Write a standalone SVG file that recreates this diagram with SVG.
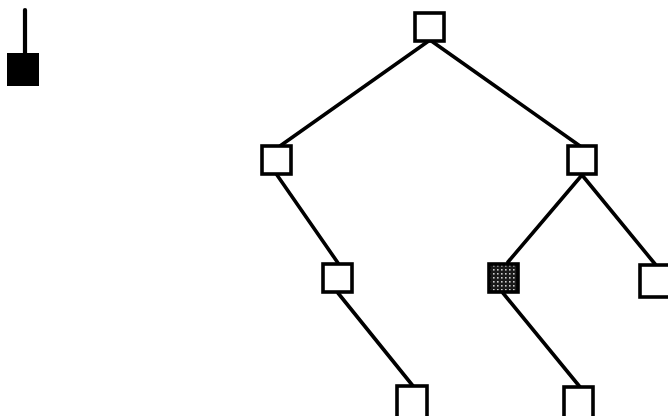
<svg xmlns="http://www.w3.org/2000/svg" width="668" height="416" viewBox="0 0 668 416">
<style>
.edge{stroke:#000;stroke-width:3.6;fill:none;stroke-linecap:round}
.node{fill:#fff;stroke:#000;stroke-width:3.6}
.shaded{fill:url(#dots);stroke:#000;stroke-width:3.6}
</style>
<defs>
<pattern id="dots" width="4" height="4" patternUnits="userSpaceOnUse">
<rect width="4" height="4" fill="#1a1a1a"/>
<rect x="1" y="1" width="1.6" height="1.6" fill="#ccc"/>
</pattern>
</defs>
<rect width="668" height="416" fill="#fff"/>
<g id="connectors">
<line class="edge" x1="430" y1="40" x2="280" y2="146"/>
<line class="edge" x1="430" y1="40" x2="580" y2="146"/>
<line class="edge" x1="277" y1="175" x2="338" y2="263"/>
<line class="edge" x1="338" y1="293" x2="413" y2="386"/>
<line class="edge" x1="582" y1="175" x2="508" y2="262"/>
<line class="edge" x1="582" y1="175" x2="655" y2="264"/>
<line class="edge" x1="503" y1="293" x2="580" y2="387"/>
<line class="edge" x1="25" y1="10" x2="25" y2="54" style="stroke-width:4.2"/>
</g>
<g id="legend"><rect x="8" y="54" width="30" height="31" fill="#000" stroke="#000" stroke-width="2"/></g>
<g id="n-root"><rect class="node" x="415" y="13" width="29" height="28"/></g>
<g id="n-left"><rect class="node" x="262" y="146" width="29" height="28"/></g>
<g id="n-right"><rect class="node" x="568" y="146" width="28" height="28"/></g>
<g id="n-ll"><rect class="node" x="323" y="264" width="29" height="28"/></g>
<g id="n-rl"><rect class="shaded" x="489" y="264" width="29" height="28"/></g>
<g id="n-rr"><rect class="node" x="640" y="265" width="30" height="32"/></g>
<g id="n-lll"><rect class="node" x="397" y="386" width="30" height="32"/></g>
<g id="n-rll"><rect class="node" x="564" y="387" width="29" height="31"/></g>
</svg>
